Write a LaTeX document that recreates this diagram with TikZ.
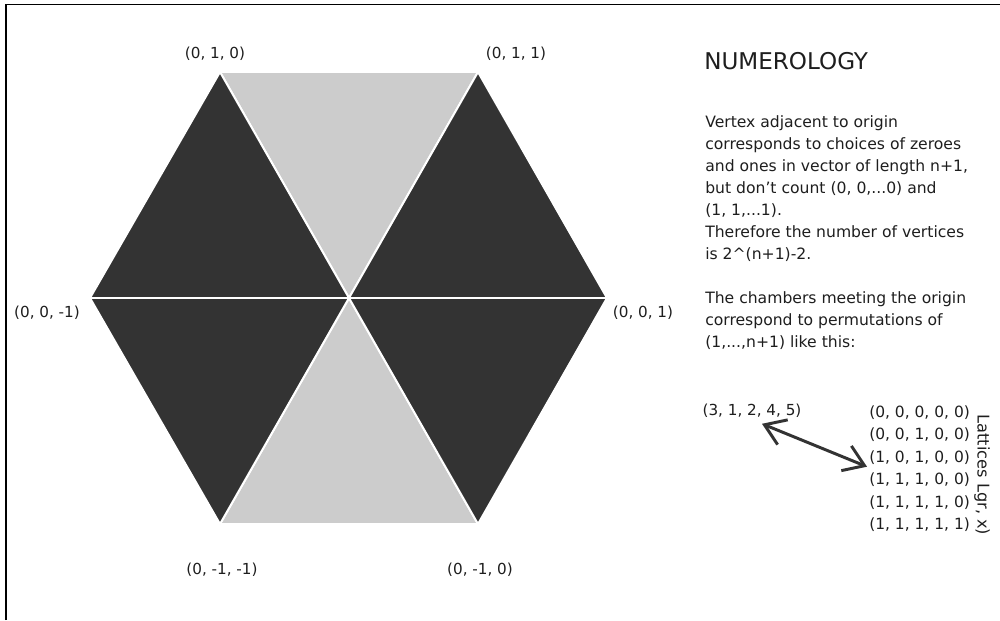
\documentclass[tikz,border=0pt]{standalone}
\usepackage{fontspec}
\setmainfont{DejaVu Sans}
\usetikzlibrary{arrows.meta}
\definecolor{darkfill}{HTML}{333333}
\definecolor{lightfill}{HTML}{CCCCCC}
\definecolor{txt}{HTML}{1E1E1E}
\begin{document}
\begin{tikzpicture}[x=0.025cm,y=-0.025cm,
  darktri/.style={fill=darkfill,draw=white,line width=1.4pt,line join=round},
  lighttri/.style={fill=lightfill,draw=white,line width=1.4pt,line join=round},
  lbl/.style={inner sep=0pt,font=\fontsize{10.8}{15}\selectfont,text=txt,anchor=base},
  body/.style={inner sep=0pt,font=\fontsize{11.1}{15.6}\selectfont,text=txt,anchor=base west},
  rowlbl/.style={inner sep=0pt,font=\fontsize{11}{15.6}\selectfont,text=txt,anchor=base west},
  dblarrow/.style={draw=darkfill,line width=2.1pt,
    {Straight Barb[length=14pt,width=19pt]}-{Straight Barb[length=14pt,width=19pt]}}]
\useasboundingbox (0,0) rectangle (1000,620);
\fill[white] (0,0) rectangle (1000,620);
% frame
\draw[line width=1.2pt] (6,620) -- (6,4.5) -- (1000,4.5);
% hexagon vertices
\coordinate (C) at (349,298);
\coordinate (L) at (90,298);
\coordinate (TL) at (220,72);
\coordinate (TR) at (478,72);
\coordinate (R) at (607,298);
\coordinate (BR) at (478,524);
\coordinate (BL) at (220,524);
% chambers
\filldraw[lighttri] (TL) -- (TR) -- (C) -- cycle;
\filldraw[lighttri] (BR) -- (BL) -- (C) -- cycle;
\filldraw[darktri] (L) -- (TL) -- (C) -- cycle;
\filldraw[darktri] (TR) -- (R) -- (C) -- cycle;
\filldraw[darktri] (R) -- (BR) -- (C) -- cycle;
\filldraw[darktri] (BL) -- (L) -- (C) -- cycle;
% vertex labels
\node[lbl] (vtl) at (215,58.5) {(0, 1, 0)};
\node[lbl] (vtr) at (516,58.5) {(0, 1, 1)};
\node[lbl] (vl) at (47,317.5) {(0, 0, -1)};
\node[lbl] (vr) at (643,317.5) {(0, 0, 1)};
\node[lbl] (vbl) at (222,574.5) {(0, -1, -1)};
\node[lbl] (vbr) at (480,574.5) {(0, -1, 0)};
% title
\node[inner sep=0pt,anchor=base west,font=\fontsize{16.4}{20}\selectfont,text=txt] (title) at (704,69.5) {NUMEROLOGY};
% body text
\node[body] (b1) at (705,127.5) {Vertex adjacent to origin};
\node[body] (b2) at (705,149.5) {corresponds to choices of zeroes};
\node[body] (b3) at (705,171.5) {and ones in vector of length n+1,};
\node[body] (b4) at (705,193.5) {but don't count (0, 0,...0) and};
\node[body] (b5) at (705,215.5) {(1, 1,...1).};
\node[body] (b6) at (705,237.5) {Therefore the number of vertices};
\node[body] (b7) at (705,259.5) {is 2\textasciicircum(n+1)-2.};
\node[body] (b8) at (705,303.5) {The chambers meeting the origin};
\node[body] (b9) at (705,325.5) {correspond to permutations of};
\node[body] (b10) at (705,347.5) {(1,...,n+1) like this:};
% permutation and lattice
\node[lbl] (perm) at (752,415.5) {(3, 1, 2, 4, 5)};
\node[rowlbl] (r1) at (869,417.5) {(0, 0, 0, 0, 0)};
\node[rowlbl] (r2) at (869,439.9) {(0, 0, 1, 0, 0)};
\node[rowlbl] (r3) at (869,462.3) {(1, 0, 1, 0, 0)};
\node[rowlbl] (r4) at (869,484.7) {(1, 1, 1, 0, 0)};
\node[rowlbl] (r5) at (869,507.1) {(1, 1, 1, 1, 0)};
\node[rowlbl] (r6) at (869,529.5) {(1, 1, 1, 1, 1)};
\node[inner sep=0pt,rotate=-90,font=\fontsize{11.5}{15.6}\selectfont,text=txt] (latt) at (982,475) {Lattices Lgr, x)};
\draw[dblarrow] ([shift={(10,6)}]perm.south) -- ([shift={(-2,-18)}]r4.base west);
\end{tikzpicture}
\end{document}
